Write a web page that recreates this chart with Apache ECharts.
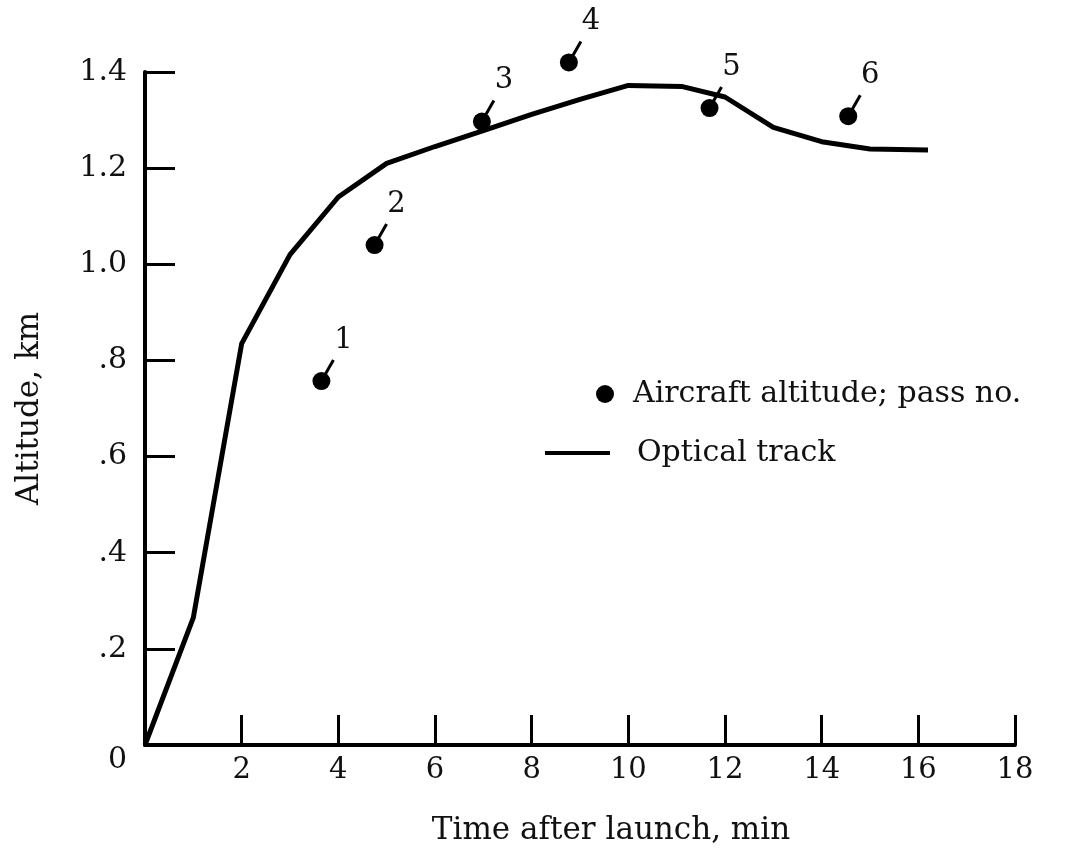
<!DOCTYPE html>
<html>
<head>
<meta charset="utf-8">
<script src="https://cdn.jsdelivr.net/npm/echarts@6/dist/echarts.min.js"></script>
<style>
  html, body { margin: 0; padding: 0; background: #fff; }
  #chart { width: 1079px; height: 851px; }
</style>
</head>
<body>
<div id="chart"></div>
<script>
// ---- data ----
var trackTime = [0, 1, 2, 3, 4, 5, 6, 7, 8, 9, 10, 11.1, 12, 13, 14, 15, 16.2];
var trackAlt  = [0, 0.265, 0.835, 1.02, 1.14, 1.21, 1.245, 1.278, 1.312, 1.343, 1.372, 1.370, 1.348, 1.285, 1.255, 1.24, 1.238];
var passTime = [3.65, 4.75, 6.97, 8.77, 11.68, 14.55];
var passAlt  = [0.757, 1.04, 1.297, 1.42, 1.325, 1.308];
var passNo   = ['1', '2', '3', '4', '5', '6'];
var yTickLabels = ['0', '.2', '.4', '.6', '.8', '1.0', '1.2', '1.4'];
var xTickLabels = ['', '2', '4', '6', '8', '10', '12', '14', '16', '18'];

var FONT = 'DejaVu Serif';
var trackData = trackTime.map(function (t, i) { return [t, trackAlt[i]]; });
var passData = passTime.map(function (t, i) { return [t, passAlt[i], passNo[i]]; });

var chart = echarts.init(document.getElementById('chart'));
chart.setOption({
  backgroundColor: '#fff',
  animation: false,
  grid: { left: 145, right: 64, top: 72, bottom: 106 },
  legend: [
    {
      data: [{ name: 'Aircraft altitude; pass no.', icon: 'circle' }],
      left: 591, top: 374, itemWidth: 18, itemHeight: 18,
      textStyle: { fontFamily: FONT, fontSize: 30, color: '#111', padding: [0, 0, 0, 14] }
    },
    {
      data: [{ name: 'Optical track', icon: 'rect' }],
      left: 540, top: 433, itemWidth: 65, itemHeight: 4,
      itemStyle: { color: '#000' },
      textStyle: { fontFamily: FONT, fontSize: 30, color: '#111', padding: [0, 0, 0, 22] }
    }
  ],
  xAxis: {
    type: 'value', min: 0, max: 18, interval: 2,
    name: 'Time after launch, min', nameLocation: 'middle', nameGap: 70,
    nameTextStyle: { fontFamily: FONT, fontSize: 31, color: '#111', padding: [0, 0, 0, 62] },
    axisLine: { show: true, lineStyle: { color: '#000', width: 4 } },
    axisTick: { show: true, inside: true, length: 30, lineStyle: { color: '#000', width: 3 } },
    axisLabel: {
      fontFamily: FONT, fontSize: 29, color: '#111', margin: 11,
      formatter: function (v) { return xTickLabels[Math.round(v / 2)]; }
    },
    splitLine: { show: false }
  },
  yAxis: {
    type: 'value', min: 0, max: 1.4, interval: 0.2,
    name: 'Altitude, km', nameLocation: 'middle', nameGap: 100,
    nameTextStyle: { fontFamily: FONT, fontSize: 31, color: '#111' },
    axisLine: { show: true, lineStyle: { color: '#000', width: 4 } },
    axisTick: { show: true, inside: true, length: 30, lineStyle: { color: '#000', width: 3 } },
    axisLabel: {
      fontFamily: FONT, fontSize: 30, color: '#111', margin: 18,
      formatter: function (v) {
        var s = yTickLabels[Math.round(v / 0.2)];
        return v === 0 ? '{z|' + s + '}' : s;
      },
      rich: { z: { fontFamily: FONT, fontSize: 30, color: '#111', padding: [30, 0, 0, 0] } }
    },
    splitLine: { show: false }
  },
  series: [
    {
      name: 'Optical track', type: 'line', data: trackData,
      symbol: 'none', smooth: false,
      lineStyle: { color: '#000', width: 5 },
      itemStyle: { color: '#000' },
      z: 3
    },
    {
      name: 'Aircraft altitude; pass no.', type: 'scatter', data: passData,
      symbol: 'circle', symbolSize: 18, clip: false,
      itemStyle: { color: '#000', opacity: 1 },
      z: 4
    },
    {
      type: 'custom', data: passData, z: 5, clip: false,
      renderItem: function (params, api) {
        var p = api.coord([api.value(0), api.value(1)]);
        return {
          type: 'group',
          children: [
            { type: 'line', shape: { x1: p[0] + 4, y1: p[1] - 7, x2: p[0] + 12, y2: p[1] - 21 },
              style: { stroke: '#000', lineWidth: 3 } },
            { type: 'text', x: p[0] + 22, y: p[1] - 41,
              style: { text: passNo[params.dataIndex], font: '29px "DejaVu Serif"', fill: '#111',
                       align: 'center', verticalAlign: 'middle' } }
          ]
        };
      }
    }
  ]
});
</script>
</body>
</html>
